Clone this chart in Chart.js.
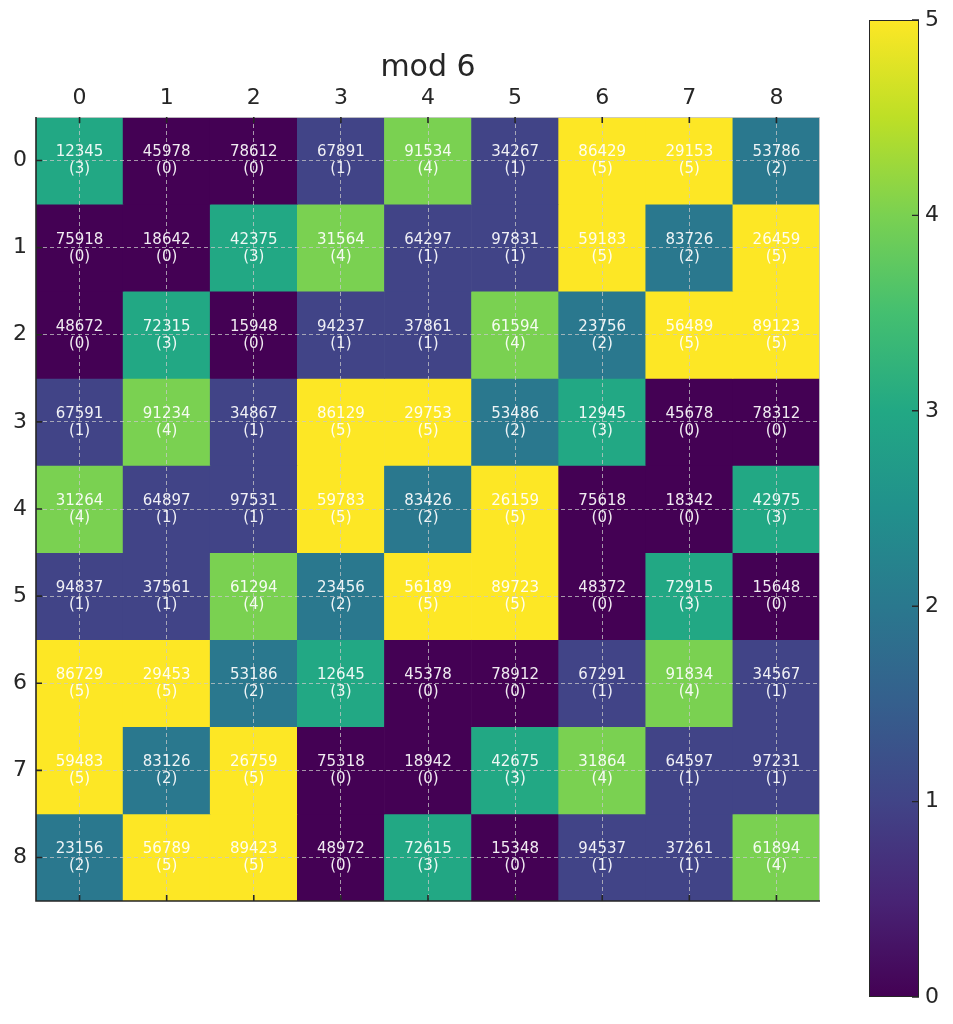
<!DOCTYPE html>
<html>
<head>
<meta charset="utf-8">
<script src="https://cdn.jsdelivr.net/npm/chart.js@4.4.1/dist/chart.umd.min.js"></script>
<style>
  html, body { margin: 0; padding: 0; background: #fff; }
  #wrap { position: relative; width: 953px; height: 1024px; }
  #heat { position: absolute; left: 0; top: 0; width: 850px; height: 1024px; }
  #cbar { position: absolute; left: 840px; top: 0; width: 113px; height: 1024px; }
</style>
</head>
<body>
<div id="wrap">
  <canvas id="heat" width="850" height="1024"></canvas>
  <canvas id="cbar" width="113" height="1024"></canvas>
</div>
<script>
// grid labels
const colLabels = ['0', '1', '2', '3', '4', '5', '6', '7', '8']
const rowLabels = ['0', '1', '2', '3', '4', '5', '6', '7', '8']

// the numbers printed in each cell, row by row
const cellNumbers = [
  [12345, 45978, 78612, 67891, 91534, 34267, 86429, 29153, 53786],
  [75918, 18642, 42375, 31564, 64297, 97831, 59183, 83726, 26459],
  [48672, 72315, 15948, 94237, 37861, 61594, 23756, 56489, 89123],
  [67591, 91234, 34867, 86129, 29753, 53486, 12945, 45678, 78312],
  [31264, 64897, 97531, 59783, 83426, 26159, 75618, 18342, 42975],
  [94837, 37561, 61294, 23456, 56189, 89723, 48372, 72915, 15648],
  [86729, 29453, 53186, 12645, 45378, 78912, 67291, 91834, 34567],
  [59483, 83126, 26759, 75318, 18942, 42675, 31864, 64597, 97231],
  [23156, 56789, 89423, 48972, 72615, 15348, 94537, 37261, 61894],
]

// the value in brackets (mod 6), which sets the colour
const cellMods = [
  [3, 0, 0, 1, 4, 1, 5, 5, 2],
  [0, 0, 3, 4, 1, 1, 5, 2, 5],
  [0, 3, 0, 1, 1, 4, 2, 5, 5],
  [1, 4, 1, 5, 5, 2, 3, 0, 0],
  [4, 1, 1, 5, 2, 5, 0, 0, 3],
  [1, 1, 4, 2, 5, 5, 0, 3, 0],
  [5, 5, 2, 3, 0, 0, 1, 4, 1],
  [5, 2, 5, 0, 0, 3, 4, 1, 1],
  [2, 5, 5, 0, 3, 0, 1, 1, 4],
]

const colorbarTicks = [0, 1, 2, 3, 4, 5]

// viridis sampled at 0, 0.2 ... 1
const viridis = ['#440154', '#414487', '#2a788e', '#22a884', '#7ad151', '#fde725']
const viridisStops = ['#440154', '#482475', '#414487', '#355f8d', '#2a788e', '#21918c',
  '#22a884', '#44bf70', '#7ad151', '#bddf26', '#fde725']

const font = '"DejaVu Sans", "Liberation Sans", sans-serif'
const dark = '#262626'
const gridColor = 'rgba(200, 200, 200, 0.75)'

// spines and inward tick marks like matplotlib
const spines = {
  id: 'spines',
  afterDraw(chart) {
    const { ctx, chartArea: a } = chart
    const x = chart.scales.x
    const y = chart.scales.y
    ctx.save()
    ctx.strokeStyle = 'rgba(200, 200, 200, 0.9)'
    ctx.lineWidth = 1
    ctx.beginPath()
    ctx.moveTo(a.left, a.top + 0.5)
    ctx.lineTo(a.right, a.top + 0.5)
    ctx.moveTo(a.right - 0.5, a.top)
    ctx.lineTo(a.right - 0.5, a.bottom)
    ctx.stroke()

    ctx.strokeStyle = dark
    ctx.lineWidth = 1.6
    ctx.beginPath()
    ctx.moveTo(a.left, a.top)
    ctx.lineTo(a.left, a.bottom)
    ctx.lineTo(a.right, a.bottom)
    x.ticks.forEach((t, i) => {
      const px = x.getPixelForTick(i)
      ctx.moveTo(px, a.top)
      ctx.lineTo(px, a.top + 6)
      ctx.moveTo(px, a.bottom)
      ctx.lineTo(px, a.bottom - 6)
    })
    y.ticks.forEach((t) => {
      const py = y.getPixelForValue(t.value)
      ctx.moveTo(a.left, py)
      ctx.lineTo(a.left + 6, py)
    })
    ctx.stroke()
    ctx.restore()
  }
}

// number and (mod) written in every cell
const cellText = {
  id: 'cellText',
  afterDraw(chart) {
    const ctx = chart.ctx
    ctx.save()
    ctx.fillStyle = 'rgba(255, 255, 255, 0.92)'
    ctx.font = '15px ' + font
    ctx.textAlign = 'center'
    ctx.textBaseline = 'middle'
    chart.data.datasets.forEach((ds, i) => {
      chart.getDatasetMeta(i).data.forEach((bar, j) => {
        const cy = (bar.y + bar.base) / 2
        ctx.fillText(String(cellNumbers[i][j]), bar.x, cy - 8)
        ctx.fillText('(' + cellMods[i][j] + ')', bar.x, cy + 9)
      })
    })
    ctx.restore()
  }
}

const heat = document.getElementById('heat')

new Chart(heat, {
  type: 'bar',
  data: {
    labels: colLabels,
    datasets: rowLabels.map((r, i) => ({
      label: 'row ' + r,
      data: colLabels.map(() => [Number(r) - 0.5, Number(r) + 0.5]),
      backgroundColor: cellMods[i].map((m) => viridis[m]),
      borderWidth: 0,
      grouped: false,
      barPercentage: 1,
      categoryPercentage: 1,
    })),
  },
  options: {
    responsive: false,
    animation: false,
    layout: { padding: { left: 6, right: 0, top: 0, bottom: 123 } },
    plugins: {
      legend: { display: false },
      tooltip: { enabled: false },
      title: {
        display: true,
        text: 'mod 6',
        color: dark,
        font: { family: font, size: 30, weight: 'normal' },
        padding: { top: 50, bottom: 0 },
      },
    },
    scales: {
      x: {
        type: 'category',
        position: 'top',
        offset: true,
        grid: { offset: false, color: gridColor, lineWidth: 1, drawTicks: false, z: 1 },
        border: { display: false, dash: [4, 3] },
        ticks: { color: dark, font: { family: font, size: 22 }, padding: 6 },
        afterFit: (s) => { s.height = 31 },
      },
      y: {
        type: 'linear',
        reverse: true,
        min: -0.5,
        max: 8.5,
        grid: { color: gridColor, lineWidth: 1, drawTicks: false, z: 1 },
        border: { display: false, dash: [4, 3] },
        ticks: {
          color: dark,
          font: { family: font, size: 22 },
          padding: 9,
          callback: (v) => rowLabels[v],
        },
        afterBuildTicks: (s) => { s.ticks = rowLabels.map((r) => ({ value: Number(r) })) },
        afterFit: (s) => { s.width = 30 },
      },
      // empty axis on the right, only to keep the title centred over the plot
      yRight: {
        type: 'linear',
        position: 'right',
        min: -0.5,
        max: 8.5,
        grid: { display: false, drawTicks: false },
        border: { display: false },
        ticks: { display: false },
        afterFit: (s) => { s.width = 30 },
      },
    },
  },
  plugins: [cellText, spines],
})

// colour bar
const cbarTicks = {
  id: 'cbarTicks',
  afterDraw(chart) {
    const { ctx, chartArea: a } = chart
    const y = chart.scales.y
    ctx.save()
    ctx.strokeStyle = dark
    ctx.lineWidth = 1.4
    ctx.beginPath()
    y.ticks.forEach((t) => {
      const py = y.getPixelForValue(t.value)
      ctx.moveTo(a.right, py)
      ctx.lineTo(a.right - 7, py)
    })
    ctx.stroke()
    ctx.restore()
  }
}

const cbar = document.getElementById('cbar')

new Chart(cbar, {
  type: 'bar',
  data: {
    labels: ['mod 6'],
    datasets: [{
      data: [[colorbarTicks[0], colorbarTicks[colorbarTicks.length - 1]]],
      backgroundColor: (c) => {
        const a = c.chart.chartArea
        if (!a) return viridis[0]
        const g = c.chart.ctx.createLinearGradient(0, a.bottom, 0, a.top)
        viridisStops.forEach((col, k) => g.addColorStop(k / (viridisStops.length - 1), col))
        return g
      },
      borderColor: dark,
      borderWidth: 1,
      borderSkipped: false,
      barPercentage: 1,
      categoryPercentage: 1,
      inflateAmount: 0,
    }],
  },
  options: {
    responsive: false,
    animation: false,
    layout: { padding: { left: 29, right: 0, top: 20, bottom: 27 } },
    plugins: { legend: { display: false }, tooltip: { enabled: false } },
    scales: {
      x: { display: false, offset: true },
      y: {
        position: 'right',
        min: 0,
        max: 5,
        grid: { display: false, drawTicks: false },
        border: { display: false },
        ticks: { stepSize: 1, color: dark, font: { family: font, size: 22 }, padding: 6 },
        afterBuildTicks: (s) => { s.ticks = colorbarTicks.map((v) => ({ value: v })) },
        afterFit: (s) => { s.width = 34 },
      },
    },
  },
  plugins: [cbarTicks],
})
</script>
</body>
</html>
